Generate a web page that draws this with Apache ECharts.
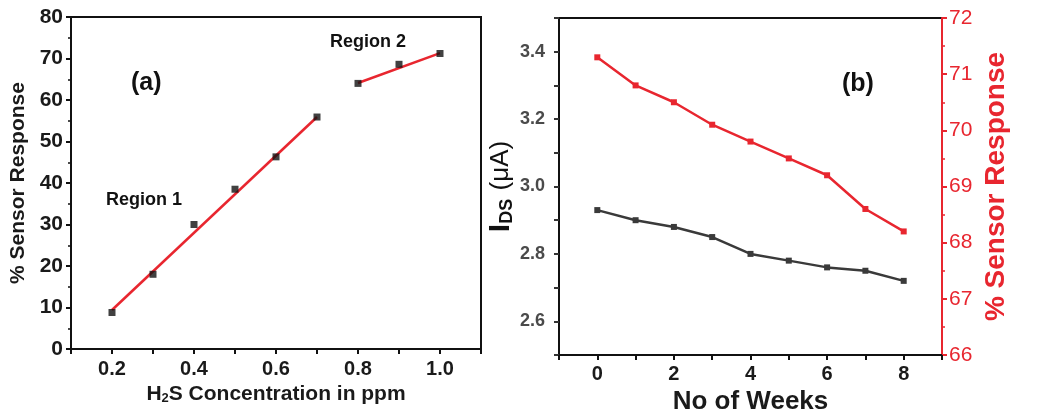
<!DOCTYPE html>
<html>
<head>
<meta charset="utf-8">
<script src="https://cdn.jsdelivr.net/npm/echarts@6/dist/echarts.min.js"></script>
<style>
html,body{margin:0;padding:0;background:#fff;}
#c{width:1042px;height:413px;}
</style>
</head>
<body>
<div id="c"></div>
<script>
// Panel (a)
const concX = [0.2, 0.3, 0.4, 0.5, 0.6, 0.7, 0.8, 0.9, 1.0];
const responseA = [8.8, 18.0, 30.0, 38.5, 46.3, 55.9, 64.0, 68.6, 71.2];
const fit1X = [0.2, 0.7];
const fit1Y = [9.4, 55.9];
const fit2X = [0.8, 1.0];
const fit2Y = [64.1, 71.3];
// Panel (b)
const weeks = [0, 1, 2, 3, 4, 5, 6, 7, 8];
const idsValues = [2.93, 2.90, 2.88, 2.85, 2.80, 2.78, 2.76, 2.75, 2.72];
const responseB = [71.3, 70.8, 70.5, 70.1, 69.8, 69.5, 69.2, 68.6, 68.2];

const RED = '#e8262f';
const FONT = 'Liberation Sans';
const zip = (a, b) => a.map((v, i) => [v, b[i]]);

const chart = echarts.init(document.getElementById('c'));
chart.setOption({
  animation: false,
  backgroundColor: '#fff',
  textStyle: {fontFamily: FONT},
  grid: [
    {left: 71, top: 17, width: 410, height: 332, outerBoundsMode: 'none', containLabel: false, show: true, borderColor: '#111', borderWidth: 2, backgroundColor: 'transparent'},
    {left: 559, top: 18, width: 383, height: 337, outerBoundsMode: 'none', containLabel: false, show: true, borderColor: '#111', borderWidth: 2, backgroundColor: 'transparent'}
  ],
  xAxis: [
    {
      gridIndex: 0, type: 'value', min: 0.1, max: 1.1, interval: 0.1,
      axisLine: {onZero: false, lineStyle: {color: '#111', width: 2}},
      axisTick: {length: 5, lineStyle: {color: '#111', width: 2}},
      splitLine: {show: false},
      axisLabel: {
        margin: 10, color: '#1a1a1a', fontWeight: 'bold', fontSize: 20, fontFamily: FONT,
        formatter: v => (Math.round(v * 10) % 2 === 0) ? v.toFixed(1) : ''
      },
      name: 'H{sub|2}S Concentration in ppm', nameLocation: 'middle', nameGap: 33,
      nameTextStyle: {
        color: '#1a1a1a', fontWeight: 'bold', fontSize: 21, fontFamily: FONT,
        rich: {sub: {fontSize: 13, fontWeight: 'bold', verticalAlign: 'bottom', padding: [9, 0, 0, 0], color: '#1a1a1a', fontFamily: FONT}}
      }
    },
    {
      gridIndex: 1, type: 'value', min: -1, max: 9, interval: 1,
      axisLine: {onZero: false, lineStyle: {color: '#111', width: 2}},
      axisTick: {length: 5, lineStyle: {color: '#111', width: 2}},
      splitLine: {show: false},
      axisLabel: {
        margin: 9, color: '#1a1a1a', fontWeight: 'bold', fontSize: 20, fontFamily: FONT,
        formatter: v => (v >= 0 && v % 2 === 0) ? String(v) : ''
      },
      name: 'No of Weeks', nameLocation: 'middle', nameGap: 31,
      nameTextStyle: {color: '#1a1a1a', fontWeight: 'bold', fontSize: 26, fontFamily: FONT}
    }
  ],
  yAxis: [
    {
      gridIndex: 0, type: 'value', min: 0, max: 80, interval: 10,
      axisLine: {onZero: false, lineStyle: {color: '#111', width: 2}},
      axisTick: {length: 5, lineStyle: {color: '#111', width: 2}},
      minorTick: {show: true, splitNumber: 2, length: 3, lineStyle: {color: '#111', width: 1.5}},
      splitLine: {show: false},
      axisLabel: {margin: 8, color: '#1a1a1a', fontWeight: 'bold', fontSize: 21, fontFamily: FONT},
      name: '% Sensor Response', nameLocation: 'middle', nameGap: 42,
      nameTextStyle: {color: '#1a1a1a', fontWeight: 'bold', fontSize: 21, fontFamily: FONT}
    },
    {
      gridIndex: 1, type: 'value', min: 2.5, max: 3.5, interval: 0.1, position: 'left',
      axisLine: {onZero: false, lineStyle: {color: '#111', width: 2}},
      axisTick: {length: 5, lineStyle: {color: '#333', width: 2}},
      splitLine: {show: false},
      axisLabel: {
        margin: 14, color: '#4a4a4a', fontWeight: 'bold', fontSize: 18, fontFamily: FONT,
        formatter: v => (Math.round(v * 10) % 2 === 0) ? v.toFixed(1) : ''
      },
      name: 'I{sub|DS} {n|(μA)}', nameLocation: 'middle', nameGap: 42,
      nameTextStyle: {
        color: '#111', fontWeight: 'bold', fontSize: 30, fontFamily: FONT,
        rich: {
          sub: {fontSize: 18, fontWeight: 'bold', verticalAlign: 'bottom', padding: [12, 0, 0, 0], color: '#111', fontFamily: FONT},
          n: {fontSize: 26, fontWeight: 'normal', color: '#111', fontFamily: FONT}
        }
      }
    },
    {
      gridIndex: 1, type: 'value', min: 66, max: 72, interval: 1, position: 'right',
      axisLine: {onZero: false, lineStyle: {color: RED, width: 2}},
      axisTick: {length: 5, lineStyle: {color: RED, width: 2}},
      minorTick: {show: true, splitNumber: 2, length: 3, lineStyle: {color: RED, width: 1.5}},
      splitLine: {show: false},
      axisLabel: {margin: 7, color: RED, fontSize: 21, fontFamily: FONT},
      name: '% Sensor Response', nameLocation: 'middle', nameGap: 40,
      nameTextStyle: {color: RED, fontWeight: 'bold', fontSize: 28, fontFamily: FONT}
    }
  ],
  series: [
    {
      type: 'line', xAxisIndex: 0, yAxisIndex: 0, data: zip(fit1X, fit1Y),
      showSymbol: false, symbol: 'none', lineStyle: {color: RED, width: 2.5}, z: 2
    },
    {
      type: 'line', xAxisIndex: 0, yAxisIndex: 0, data: zip(fit2X, fit2Y),
      showSymbol: false, symbol: 'none', lineStyle: {color: RED, width: 2.5}, z: 2
    },
    {
      type: 'scatter', xAxisIndex: 0, yAxisIndex: 0, data: zip(concX, responseA),
      symbol: 'rect', symbolSize: 7, itemStyle: {color: '#111'}, z: 3
    },
    {
      type: 'line', xAxisIndex: 1, yAxisIndex: 1, data: zip(weeks, idsValues),
      symbol: 'rect', symbolSize: 6, lineStyle: {color: '#3a3a3a', width: 2.5}, itemStyle: {color: '#3a3a3a'}
    },
    {
      type: 'line', xAxisIndex: 1, yAxisIndex: 2, data: zip(weeks, responseB),
      symbol: 'rect', symbolSize: 6, lineStyle: {color: RED, width: 2.5}, itemStyle: {color: RED}
    }
  ],
  graphic: [
    {type: 'text', left: 131, top: 71, style: {text: '(a)', fill: '#111', font: 'bold 25px "Liberation Sans"'}},
    {type: 'text', left: 330, top: 33, style: {text: 'Region 2', fill: '#111', font: 'bold 18px "Liberation Sans"'}},
    {type: 'text', left: 106, top: 191, style: {text: 'Region 1', fill: '#111', font: 'bold 18px "Liberation Sans"'}},
    {type: 'text', left: 842, top: 72, style: {text: '(b)', fill: '#111', font: 'bold 25px "Liberation Sans"'}}
  ]
});
</script>
</body>
</html>
